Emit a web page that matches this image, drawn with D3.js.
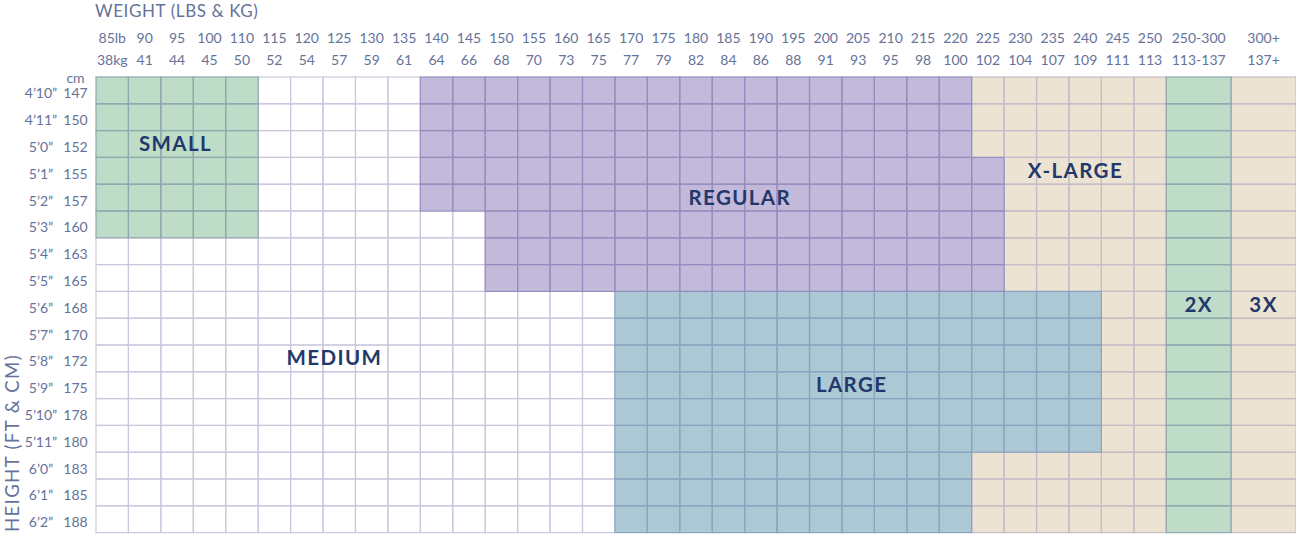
<!DOCTYPE html>
<html>
<head>
<meta charset="utf-8">
<script src="https://cdn.jsdelivr.net/npm/d3@7"></script>
<style>
  html, body { margin: 0; padding: 0; background: #fff; }
  svg { display: block; }
</style>
</head>
<body>
<div id="chart"></div>
<script>
// weight columns (lb on top, kg below)
const weightLb = ["85lb", "90", "95", "100", "110", "115", "120", "125", "130", "135", "140", "145", "150",
  "155", "160", "165", "170", "175", "180", "185", "190", "195", "200", "205", "210", "215", "220",
  "225", "230", "235", "240", "245", "250", "250-300", "300+"];
const weightKg = ["38kg", "41", "44", "45", "50", "52", "54", "57", "59", "61", "64", "66", "68",
  "70", "73", "75", "77", "79", "82", "84", "86", "88", "91", "93", "95", "98", "100",
  "102", "104", "107", "109", "111", "113", "113-137", "137+"];

// height rows
const heightFt = ["4’10”", "4’11”", "5’0”", "5’1”", "5’2”", "5’3”", "5’4”", "5’5”", "5’6”",
  "5’7”", "5’8”", "5’9”", "5’10”", "5’11”", "6’0”", "6’1”", "6’2”"];
const heightCm = ["147", "150", "152", "155", "157", "160", "163", "165", "168",
  "170", "172", "175", "178", "180", "183", "185", "188"];

// size for every cell, one string per height row, one char per weight column
// S small, M medium, R regular, L large, X x-large, 2 = 2X, 3 = 3X
const sizeRows = [
  "SSSSSMMMMMRRRRRRRRRRRRRRRRRXXXXXX23",
  "SSSSSMMMMMRRRRRRRRRRRRRRRRRXXXXXX23",
  "SSSSSMMMMMRRRRRRRRRRRRRRRRRXXXXXX23",
  "SSSSSMMMMMRRRRRRRRRRRRRRRRRRXXXXX23",
  "SSSSSMMMMMRRRRRRRRRRRRRRRRRRXXXXX23",
  "SSSSSMMMMMMMRRRRRRRRRRRRRRRRXXXXX23",
  "MMMMMMMMMMMMRRRRRRRRRRRRRRRRXXXXX23",
  "MMMMMMMMMMMMRRRRRRRRRRRRRRRRXXXXX23",
  "MMMMMMMMMMMMMMMMLLLLLLLLLLLLLLLXX23",
  "MMMMMMMMMMMMMMMMLLLLLLLLLLLLLLLXX23",
  "MMMMMMMMMMMMMMMMLLLLLLLLLLLLLLLXX23",
  "MMMMMMMMMMMMMMMMLLLLLLLLLLLLLLLXX23",
  "MMMMMMMMMMMMMMMMLLLLLLLLLLLLLLLXX23",
  "MMMMMMMMMMMMMMMMLLLLLLLLLLLLLLLXX23",
  "MMMMMMMMMMMMMMMMLLLLLLLLLLLXXXXXX23",
  "MMMMMMMMMMMMMMMMLLLLLLLLLLLXXXXXX23",
  "MMMMMMMMMMMMMMMMLLLLLLLLLLLXXXXXX23"
];

// size names, placed by (column unit, row index)
const sizeLabels = [
  { code: "S", text: "SMALL", col: 2.45, row: 2 },
  { code: "M", text: "MEDIUM", col: 7.35, row: 10 },
  { code: "R", text: "REGULAR", col: 19.85, row: 4 },
  { code: "L", text: "LARGE", col: 23.3, row: 11 },
  { code: "X", text: "X-LARGE", col: 30.2, row: 3 },
  { code: "2", text: "2X", col: 34, row: 8 },
  { code: "3", text: "3X", col: 36, row: 8 }
];

const fills = { S: "#bfdcc9", M: "#ffffff", R: "#c3b9db", L: "#acc8d5", X: "#ede3d2", "2": "#bfdcc9", "3": "#ede3d2" };
const strokes = { S: "#8fa8ad", M: "#cbc8de", R: "#958dbf", L: "#8aa4bf", X: "#c5bcc9", "2": "#8ea7b0", "3": "#c5bcc9" };
const strokeOrder = ["M", "X", "3", "S", "2", "L", "R"];

const width = 1296, height = 534;
const gridLeft = 96, gridTop = 77, gridBottom = 532.6;
const tickColor = "#65729a", labelColor = "#22386b";
const font = "Lato, 'Open Sans', sans-serif";

// column spans: range columns ("250-300", "300+") are two cells wide
const spans = weightLb.map(d => (d.includes("-") || d.includes("+")) ? 2 : 1);
const starts = [0, ...d3.cumsum(spans)];
const totalUnits = starts[starts.length - 1];

const x = d3.scaleLinear().domain([0, totalUnits]).range([gridLeft, width]);
const y = d3.scaleBand().domain(d3.range(heightFt.length)).range([gridTop, gridBottom]);

const svg = d3.select("#chart").append("svg")
  .attr("width", width)
  .attr("height", height);

// cells
const cells = [];
sizeRows.forEach((row, r) => {
  row.split("").forEach((code, c) => {
    cells.push({ r, c, code });
  });
});

svg.append("g").selectAll("rect")
  .data(cells)
  .join("rect")
  .attr("x", d => x(starts[d.c]))
  .attr("y", d => y(d.r))
  .attr("width", d => x(starts[d.c] + spans[d.c]) - x(starts[d.c]))
  .attr("height", y.bandwidth())
  .attr("fill", d => fills[d.code]);

// grid lines, drawn per size so the coloured regions sit on top
const grid = svg.append("g").attr("fill", "none").attr("stroke-width", 1.2);
strokeOrder.forEach(code => {
  grid.append("g").selectAll("rect")
    .data(cells.filter(d => d.code === code))
    .join("rect")
    .attr("x", d => x(starts[d.c]))
    .attr("y", d => y(d.r))
    .attr("width", d => x(starts[d.c] + spans[d.c]) - x(starts[d.c]))
    .attr("height", y.bandwidth())
    .attr("stroke", strokes[code]);
});

// size names
svg.append("g").selectAll("text")
  .data(sizeLabels)
  .join("text")
  .attr("x", d => x(d.col))
  .attr("y", d => y(d.row) + y.bandwidth() / 2 + 7)
  .attr("text-anchor", "middle")
  .attr("font-family", font)
  .attr("font-weight", "bold")
  .attr("font-size", 20.5)
  .attr("letter-spacing", 1.4)
  .attr("fill", labelColor)
  .text(d => d.text);

// weight labels
const colCenter = i => x(starts[i] + spans[i] / 2);
const topLabels = svg.append("g")
  .attr("font-family", font)
  .attr("font-size", 14)
  .attr("fill", tickColor)
  .attr("text-anchor", "middle");
topLabels.selectAll(".lb")
  .data(weightLb)
  .join("text")
  .attr("class", "lb")
  .attr("x", (d, i) => colCenter(i))
  .attr("y", 43)
  .text(d => d);
topLabels.selectAll(".kg")
  .data(weightKg)
  .join("text")
  .attr("class", "kg")
  .attr("x", (d, i) => colCenter(i))
  .attr("y", 65)
  .text(d => d);

svg.append("text")
  .attr("x", 95)
  .attr("y", 17)
  .attr("font-family", font)
  .attr("font-size", 17)
  .attr("letter-spacing", 0.6)
  .attr("fill", tickColor)
  .text("WEIGHT (LBS & KG)");

// height labels
const side = svg.append("g")
  .attr("font-family", font)
  .attr("font-size", 14)
  .attr("fill", tickColor)
  .attr("text-anchor", "middle");
side.selectAll(".ft")
  .data(heightFt)
  .join("text")
  .attr("class", "ft")
  .attr("x", 41)
  .attr("y", (d, i) => y(i) + y.bandwidth() / 2 + 8)
  .text(d => d);
side.selectAll(".cm")
  .data(heightCm)
  .join("text")
  .attr("class", "cm")
  .attr("x", 75.5)
  .attr("y", (d, i) => y(i) + y.bandwidth() / 2 + 8)
  .text(d => d);
side.append("text")
  .attr("x", 75.5)
  .attr("y", 83)
  .text("cm");

svg.append("text")
  .attr("transform", "translate(19,532) rotate(-90)")
  .attr("font-family", font)
  .attr("font-size", 18.5)
  .attr("letter-spacing", 1.4)
  .attr("fill", tickColor)
  .text("HEIGHT (FT & CM)");
</script>
</body>
</html>
